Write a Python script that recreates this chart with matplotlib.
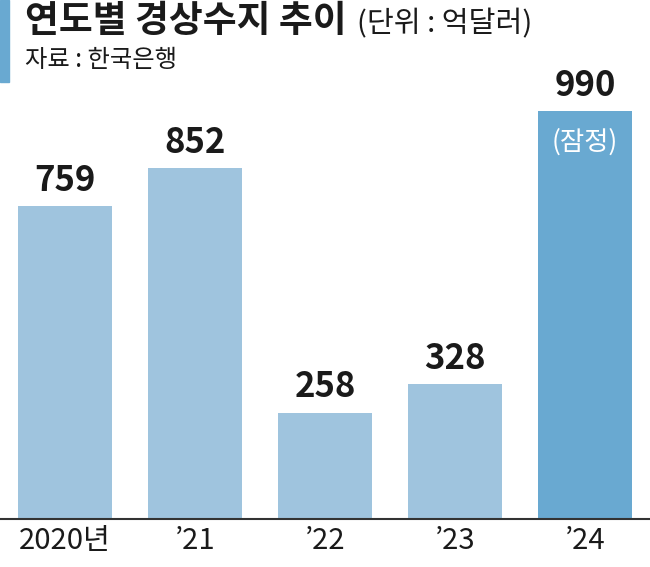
import matplotlib
matplotlib.use("Agg")
import matplotlib.pyplot as plt
from matplotlib.patches import Rectangle

plt.rcParams["font.family"] = ["Noto Sans CJK KR", "DejaVu Sans"]

# data
years = ["2020년", "’21", "’22", "’23", "’24"]
values = [759, 852, 258, 328, 990]
notes = ["", "", "", "", "(잠정)"]

LIGHT = "#9fc4de"
DARK = "#69a9d1"
colors = [LIGHT, LIGHT, LIGHT, LIGHT, DARK]

fig = plt.figure(figsize=(6.5, 5.67), dpi=100)
ax = fig.add_axes([0, 48 / 567, 1, 519 / 567])

x = range(len(values))
bars = ax.bar(x, values, width=0.72, color=colors, zorder=2)

for xi, v in zip(x, values):
    ax.annotate(f"{v}", (xi, v), xytext=(0, 6), textcoords="offset points",
                ha="center", va="bottom", fontsize=25, fontweight="bold",
                color="#1a1a1a")

for xi, v, n in zip(x, values, notes):
    if n:
        ax.annotate(n, (xi, v), xytext=(0, -22), textcoords="offset points",
                    ha="center", va="center", fontsize=19, color="white")

ax.set_xlim(-0.5, len(values) - 0.5)
ax.set_ylim(0, 1260)
ax.set_xticks(list(x))
ax.set_xticklabels(years, fontsize=21, color="#1a1a1a")
ax.tick_params(axis="x", length=0, pad=5)
ax.set_yticks([])
for side in ["top", "right", "left"]:
    ax.spines[side].set_visible(False)
ax.spines["bottom"].set_linewidth(1.5)
ax.spines["bottom"].set_color("#333333")
ax.patch.set_alpha(0)

# left accent bar and titles
fig.patches.append(Rectangle((0, 1 - 82 / 567), 9 / 650, 82 / 567,
                             transform=fig.transFigure, color=DARK))
fig.text(25 / 650, 1 - 32 / 567, "연도별 경상수지 추이", fontsize=26.5,
         fontweight=900, ha="left", va="baseline", color="#1a1a1a")
fig.text(357 / 650, 1 - 32 / 567, "(단위 : 억달러)", fontsize=21,
         ha="left", va="baseline", color="#1a1a1a")
fig.text(25 / 650, 1 - 67 / 567, "자료 : 한국은행", fontsize=17.5,
         ha="left", va="baseline", color="#1a1a1a")

fig.savefig("out.png", dpi=100)
